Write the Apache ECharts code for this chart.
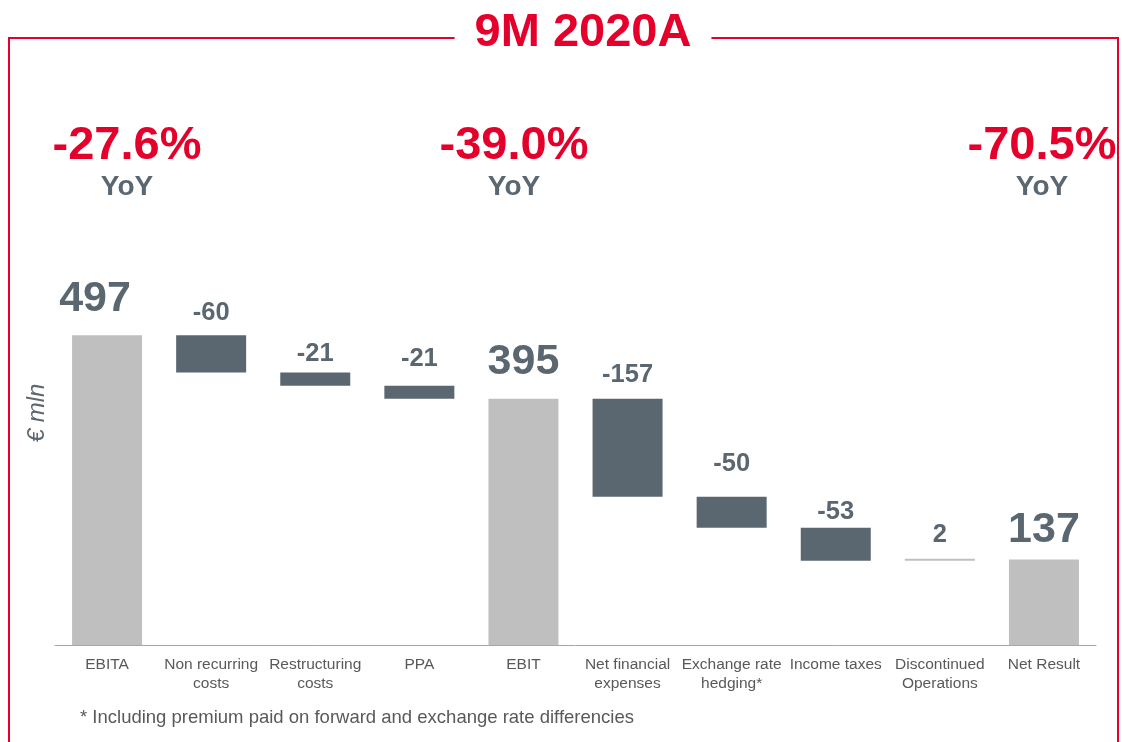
<!DOCTYPE html>
<html>
<head>
<meta charset="utf-8">
<style>
  html, body { margin: 0; padding: 0; background: #fff; }
  #chart { width: 1122px; height: 742px; }
</style>
<script src="https://cdn.jsdelivr.net/npm/echarts@6/dist/echarts.min.js"></script>
</head>
<body>
<div id="chart"></div>
<script>
// data (EUR mln)
var categories = ['EBITA', 'Non recurring\ncosts', 'Restructuring\ncosts', 'PPA', 'EBIT',
    'Net financial\nexpenses', 'Exchange rate\nhedging*', 'Income taxes', 'Discontinued\nOperations', 'Net Result'];
var values = [497, -60, -21, -21, 395, -157, -50, -53, 2, 137];
var isTotal = [true, false, false, false, true, false, false, false, false, true];
var yoyLabels = ['-27.6%', '-39.0%', '-70.5%'];
var yoyX = [127, 514, 1042];

// label gap above each bar (px), as placed on the slide
var labelGap = [15, 9, 5.5, 13.5, 15, 10.5, 19.5, 2.5, 11, 8];

var RED = '#e4002b';
var GREY = '#5b6770';
var LIGHT = '#bfbfbf';

// waterfall: invisible base + visible piece
var baseData = [], barData = [];
var running = 0;
for (var i = 0; i < values.length; i++) {
    var v = values[i];
    var item = { value: 0, itemStyle: {}, label: {} };
    if (isTotal[i]) {
        running = v;
        baseData.push(0);
        item.value = v;
        item.itemStyle.color = LIGHT;
        item.label = {
            show: true, position: 'top', distance: labelGap[i],
            fontSize: 43, fontWeight: 'bold', color: GREY,
            formatter: String(v)
        };
        if (i === 0) item.label.offset = [-12, 0];
    } else {
        if (v < 0) {
            baseData.push(running + v);
            item.value = -v;
            item.itemStyle.color = GREY;
        } else {
            baseData.push(running);
            item.value = v;
            item.itemStyle.color = LIGHT;
        }
        running += v;
        item.label = {
            show: true, position: 'top', distance: labelGap[i],
            fontSize: 25.5, fontWeight: 'bold', color: GREY,
            formatter: String(v)
        };
    }
    barData.push(item);
}

var graphics = [
    {
        type: 'rect', z: 1,
        shape: { x: 9, y: 38, width: 1109, height: 720 },
        style: { fill: 'none', stroke: RED, lineWidth: 2 }
    },
    {
        type: 'text', z: 2, x: 583, y: 33,
        style: {
            text: '9M 2020A', fill: RED, font: 'bold 47px "Liberation Sans", Arial',
            align: 'center', verticalAlign: 'middle',
            backgroundColor: '#fff', padding: [0, 20]
        }
    },
    {
        type: 'text', x: 37, y: 413, rotation: Math.PI / 2,
        style: {
            text: '€ mln', fill: GREY, font: 'italic 24px "Liberation Sans", Arial',
            align: 'center', verticalAlign: 'middle'
        }
    },
    {
        type: 'text', x: 80, y: 718,
        style: {
            text: '* Including premium paid on forward and exchange rate differencies',
            fill: '#595959', font: '18.5px "Liberation Sans", Arial',
            align: 'left', verticalAlign: 'middle'
        }
    }
];
for (var k = 0; k < yoyLabels.length; k++) {
    graphics.push({
        type: 'text', x: yoyX[k], y: 146,
        style: {
            text: yoyLabels[k], fill: RED, font: 'bold 47px "Liberation Sans", Arial',
            align: 'center', verticalAlign: 'middle'
        }
    });
    graphics.push({
        type: 'text', x: yoyX[k], y: 187,
        style: {
            text: 'YoY', fill: GREY, font: 'bold 28px "Liberation Sans", Arial',
            align: 'center', verticalAlign: 'middle'
        }
    });
}

var chart = echarts.init(document.getElementById('chart'));
chart.setOption({
    animation: false,
    backgroundColor: '#fff',
    textStyle: { fontFamily: '"Liberation Sans", Arial, sans-serif' },
    grid: { left: 55, right: 26, top: 271, bottom: 97 },
    xAxis: {
        type: 'category',
        data: categories,
        axisLine: { lineStyle: { color: '#a6a6a6', width: 1 } },
        axisTick: { show: false },
        axisLabel: { interval: 0, fontSize: 15.5, color: '#595959', lineHeight: 19, margin: 10 }
    },
    yAxis: {
        type: 'value', min: 0, max: 600,
        show: false
    },
    series: [
        {
            type: 'bar', stack: 'w', barWidth: 70,
            itemStyle: { color: 'transparent' },
            emphasis: { disabled: true },
            data: baseData
        },
        {
            type: 'bar', stack: 'w', barWidth: 70, barMinHeight: 2,
            emphasis: { disabled: true },
            data: barData
        }
    ],
    graphic: graphics
});
</script>
</body>
</html>
